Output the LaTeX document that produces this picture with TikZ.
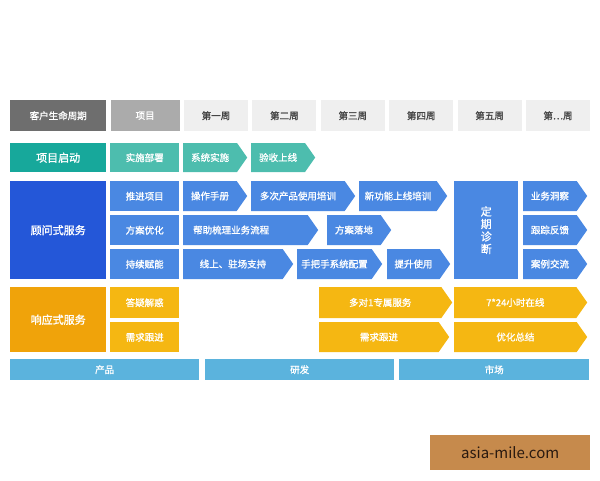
\documentclass[tikz,border=0pt]{standalone}
\usepackage{fontspec}
\setmainfont{Noto Sans CJK SC}
\newfontfamily\cjkbold{Noto Sans CJK SC}[FakeBold=1.2]
\usetikzlibrary{shapes.symbols,positioning}

\definecolor{hdrdark}{HTML}{6E6E6E}
\definecolor{hdrmid}{HTML}{ABABAB}
\definecolor{hdrweek}{HTML}{EFEFEF}
\definecolor{weektext}{HTML}{444444}
\definecolor{tealdark}{HTML}{17A89B}
\definecolor{teallight}{HTML}{4DBDAE}
\definecolor{bluedark}{HTML}{2457D8}
\definecolor{bluelight}{HTML}{4A88E2}
\definecolor{orangedark}{HTML}{F0A30A}
\definecolor{orangelight}{HTML}{F5B712}
\definecolor{barblue}{HTML}{5BB3DD}
\definecolor{markbg}{HTML}{C68A4C}
\definecolor{marktext}{HTML}{2A1A10}

\tikzset{
  sz/.style 2 args={minimum width=#1pt, minimum height=#2pt},
  box/.style={rectangle, inner sep=0pt, anchor=north west, text=white,
    font=\cjkbold\fontsize{9.5}{10}\selectfont},
  mainbox/.style={box, font=\cjkbold\fontsize{11}{12}\selectfont},
  arr/.style={signal, signal to=east, signal pointer angle=110, inner sep=0pt,
    anchor=west, text=white, font=\cjkbold\fontsize{9.5}{10}\selectfont},
  weekbox/.style={box, fill=hdrweek, text=weektext, sz={64}{31}},
}

\begin{document}
\begin{tikzpicture}[x=1pt,y=-1pt]
\useasboundingbox (0,0) rectangle (600,480);

% header row
\node[box, fill=hdrdark, sz={96}{31}] (cycle) at (10,100) {客户生命周期};
\node[box, fill=hdrmid, sz={69}{31}, right=4pt of cycle] (proj) {项目};
\node[weekbox, right=4pt of proj] (wk1) {第一周};
\node[weekbox, right=4pt of wk1] (wk2) {第二周};
\node[weekbox, right=4pt of wk2] (wk3) {第三周};
\node[weekbox, right=4pt of wk3] (wk4) {第四周};
\node[weekbox, right=4pt of wk4] (wk5) {第五周};
\node[weekbox, right=4pt of wk5] (wk6) {第…周};

% project start
\node[mainbox, fill=tealdark, sz={96}{29}] (start) at (10,143) {项目启动};
\node[box, fill=teallight, sz={69}{29}] (deploy) at (110,143) {实施部署};
\node[arr, fill=teallight, sz={64}{29}] (sysimpl) at (183,157.5) {系统实施};
\node[arr, fill=teallight, sz={64}{29}] (accept) at (251,157.5) {验收上线};

% consulting service
\node[mainbox, fill=bluedark, sz={96}{98}] (consult) at (10,181) {顾问式服务};
\node[box, fill=bluelight, sz={69}{30}] (push) at (110,181) {推进项目};
\node[box, fill=bluelight, sz={69}{30}] (plan) at (110,215) {方案优化};
\node[box, fill=bluelight, sz={69}{30}] (empower) at (110,249) {持续赋能};

\node[arr, fill=bluelight, sz={64}{30}] (manual) at (183,196) {操作手册};
\node[arr, fill=bluelight, sz={104}{30}] (multitrain) at (251,196) {多次产品使用培训};
\node[arr, fill=bluelight, sz={88}{30}] (newtrain) at (359,196) {新功能上线培训};

\node[arr, fill=bluelight, sz={135}{30}] (flow) at (183,230) {};
\node[anchor=west, text=white, inner sep=0pt, font=\cjkbold\fontsize{9.5}{10}\selectfont]
  (flowtext) at ([xshift=10pt]flow.west) {帮助梳理业务流程};
\node[arr, fill=bluelight, sz={64}{30}] (land) at (327,230) {方案落地};

\node[arr, fill=bluelight, sz={110}{30}] (onsite) at (183,264) {线上、驻场支持};
\node[arr, fill=bluelight, sz={85}{30}] (config) at (297,264) {手把手系统配置};
\node[arr, fill=bluelight, sz={63}{30}] (improve) at (387,264) {提升使用};

\node[box, fill=bluelight, sz={64}{98}, align=center,
  font=\cjkbold\fontsize{11}{12.5}\selectfont] (diag) at (454,181) {定\\期\\诊\\断};
\node[arr, fill=bluelight, sz={64}{30}] (insight) at (523,196) {业务洞察};
\node[arr, fill=bluelight, sz={64}{30}] (track) at (523,230) {跟踪反馈};
\node[arr, fill=bluelight, sz={64}{30}] (cases) at (523,264) {案例交流};

% responsive service
\node[mainbox, fill=orangedark, sz={96}{65}] (respond) at (10,287) {响应式服务};
\node[box, fill=orangelight, sz={69}{31}] (answer) at (110,287) {答疑解惑};
\node[box, fill=orangelight, sz={69}{30}] (req) at (110,322) {需求跟进};
\node[arr, fill=orangelight, sz={133}{31}] (dedicated) at (319,302.5) {多对1专属服务};
\node[arr, fill=orangelight, sz={130}{30}] (reqfollow) at (319,337) {需求跟进};
\node[arr, fill=orangelight, sz={133}{31}] (online) at (454,302.5) {7*24小时在线};
\node[arr, fill=orangelight, sz={133}{30}] (summary) at (454,337) {优化总结};

% bottom bars
\node[box, fill=barblue, sz={189}{21}] (product) at (10,359) {产品};
\node[box, fill=barblue, sz={189}{21}] (rnd) at (205,359) {研发};
\node[box, fill=barblue, sz={190}{21}] (market) at (399,359) {市场};

% watermark
\node[box, fill=markbg, text=marktext, sz={160}{35},
  font=\fontsize{15}{16}\selectfont] (mark) at (430,435) {asia-mile.com};
\end{tikzpicture}
\end{document}
